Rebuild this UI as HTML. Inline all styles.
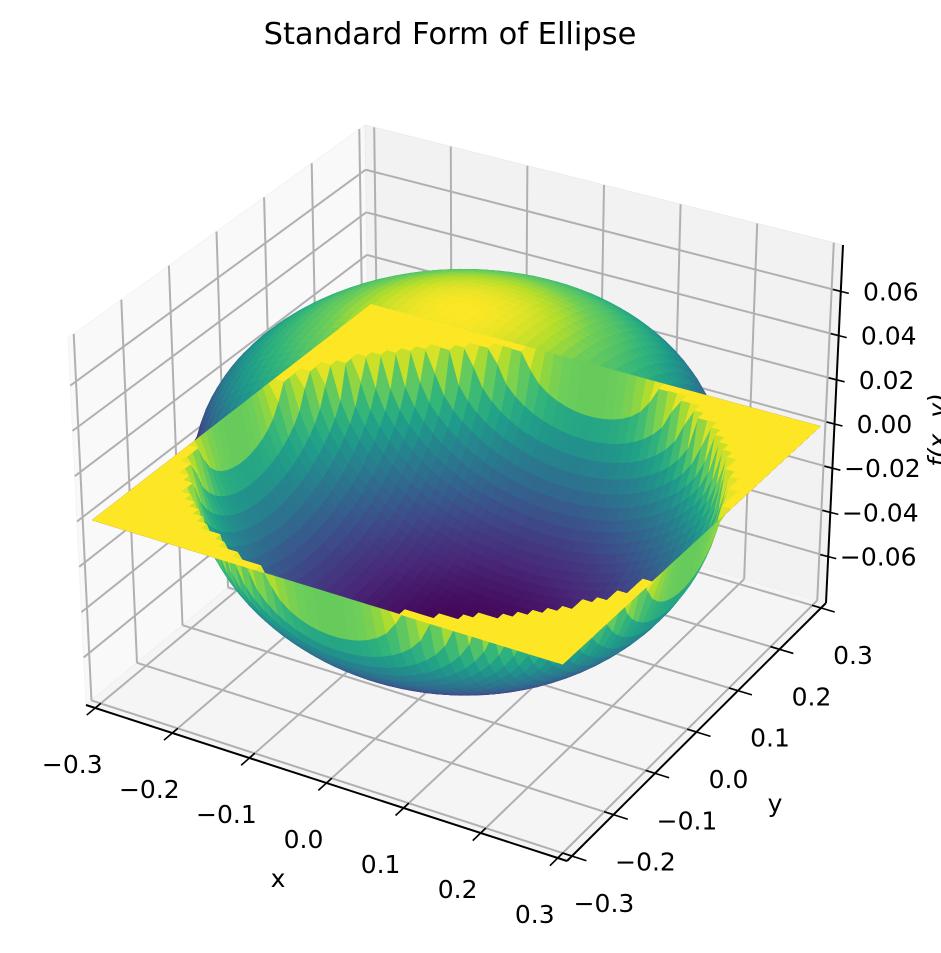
<!DOCTYPE html>
<html><head><meta charset="utf-8"><title>Standard Form of Ellipse</title>
<style>
html,body{margin:0;padding:0;background:#fff;}
svg{display:block;font-family:"DejaVu Sans","Liberation Sans",sans-serif;}
</style></head>
<body>
<svg id="chart" width="941" height="953" viewBox="0 0 941 953" xmlns="http://www.w3.org/2000/svg">
<rect x="0" y="0" width="941" height="953" fill="#ffffff"/>
<text x="450" y="44" font-size="30.5" text-anchor="middle" fill="#000">Standard Form of Ellipse</text>
<g id="panes"></g>
<g id="grid"></g>
<g id="surf-upper"></g>
<g id="surf-lower"></g>
<g id="axes"></g>
<text x="278" y="887" font-size="25" text-anchor="middle">x</text>
<text x="775" y="812" font-size="25" text-anchor="middle">y</text>
<text transform="translate(946,430) rotate(-90)" font-size="25" font-style="italic" text-anchor="middle">f(x, y)</text>
</svg>
<script>
// ---- data ----
const xTicks = [-0.3, -0.2, -0.1, 0.0, 0.1, 0.2, 0.3];
const yTicks = [-0.3, -0.2, -0.1, 0.0, 0.1, 0.2, 0.3];
const zTicks = [-0.06, -0.04, -0.02, 0.0, 0.02, 0.04, 0.06];
const xTickLabels = ["\u22120.3", "\u22120.2", "\u22120.1", "0.0", "0.1", "0.2", "0.3"];
const yTickLabels = ["\u22120.3", "\u22120.2", "\u22120.1", "0.0", "0.1", "0.2", "0.3"];
const zTickLabels = ["\u22120.06", "\u22120.04", "\u22120.02", "0.00", "0.02", "0.04", "0.06"];
const semiAxes = [0.3, 0.3, 0.075];      // a, b, c
const gridDomain = [-0.3, 0.3];
const gridCount = 50;
const xLim = [-0.312, 0.312];
const yLim = [-0.312, 0.312];
const zLim = [-0.081, 0.081];

// ---- projection (box corners in screen space) ----
const C = {
  '000': [86, 705], '100': [567, 861], '110': [826, 603], '010': [370, 470],
  '001': [68, 338], '101': [567, 483], '111': [843, 245], '011': [365, 125]
};
function proj(x, y, z) {
  const u = (x - xLim[0]) / (xLim[1] - xLim[0]);
  const v = (y - yLim[0]) / (yLim[1] - yLim[0]);
  const w = (z - zLim[0]) / (zLim[1] - zLim[0]);
  let px = 0, py = 0;
  for (const a of [0, 1]) for (const b of [0, 1]) for (const c of [0, 1]) {
    const wt = (a ? u : 1 - u) * (b ? v : 1 - v) * (c ? w : 1 - w);
    const p = C['' + a + b + c];
    px += wt * p[0]; py += wt * p[1];
  }
  return [px, py];
}
function depth(x, y, z) {
  const sx = ((x - xLim[0]) / (xLim[1] - xLim[0]) - 0.5) * 4;
  const sy = ((y - yLim[0]) / (yLim[1] - yLim[0]) - 0.5) * 4;
  const sz = ((z - zLim[0]) / (zLim[1] - zLim[0]) - 0.5) * 3;
  return 0.433 * sx - 0.75 * sy + 0.5 * sz;
}
const NS = 'http://www.w3.org/2000/svg';
function mk(tag, attrs, parent) {
  const e = document.createElementNS(NS, tag);
  for (const k in attrs) e.setAttribute(k, attrs[k]);
  parent.appendChild(e);
  return e;
}
function pts(list) { return list.map(p => p[0].toFixed(1) + ',' + p[1].toFixed(1)).join(' '); }

// ---- viridis ----
const VIR = [[0,68,1,84],[0.125,72,40,120],[0.25,62,73,137],[0.375,49,104,142],[0.5,38,130,142],
  [0.625,31,158,137],[0.75,53,183,121],[0.875,110,206,88],[0.9375,181,222,43],[1,253,231,37]];
function viridis(t) {
  t = Math.max(0, Math.min(1, t));
  for (let i = 1; i < VIR.length; i++) {
    if (t <= VIR[i][0]) {
      const a = VIR[i - 1], b = VIR[i], f = (t - a[0]) / (b[0] - a[0]);
      return 'rgb(' + [1, 2, 3].map(k => Math.round(a[k] + (b[k] - a[k]) * f)).join(',') + ')';
    }
  }
  return 'rgb(253,231,37)';
}

// ---- panes ----
const panes = document.getElementById('panes');
const leftPane = mk('polygon', {points: pts([proj(xLim[0], yLim[0], zLim[0]), proj(xLim[0], yLim[1], zLim[0]), proj(xLim[0], yLim[1], zLim[1]), proj(xLim[0], yLim[0], zLim[1])]), fill: '#f9f9f9', stroke: '#f3f3f3', 'stroke-width': 1}, panes);


const backPane = mk('polygon', {points: pts([proj(xLim[0], yLim[1], zLim[0]), proj(xLim[1], yLim[1], zLim[0]), proj(xLim[1], yLim[1], zLim[1]), proj(xLim[0], yLim[1], zLim[1])]), fill: '#f2f2f2', stroke: '#ececec', 'stroke-width': 1}, panes);


const floorPane = mk('polygon', {points: pts([proj(xLim[0], yLim[0], zLim[0]), proj(xLim[1], yLim[0], zLim[0]), proj(xLim[1], yLim[1], zLim[0]), proj(xLim[0], yLim[1], zLim[0])]), fill: '#f5f5f5', stroke: '#efefef', 'stroke-width': 1}, panes);



// ---- grid lines ----
const grid = document.getElementById('grid');
function gline(a, b, name) {
  const l = mk('line', {x1: a[0], y1: a[1], x2: b[0], y2: b[1], stroke: '#b0b0b0', 'stroke-width': 2}, grid);
  
  
}
xTicks.forEach(x => {
  gline(proj(x, yLim[0], zLim[0]), proj(x, yLim[1], zLim[0]), 'x-gridline-floor');
  gline(proj(x, yLim[1], zLim[0]), proj(x, yLim[1], zLim[1]), 'x-gridline-back');
});
yTicks.forEach(y => {
  gline(proj(xLim[0], y, zLim[0]), proj(xLim[1], y, zLim[0]), 'y-gridline-floor');
  gline(proj(xLim[0], y, zLim[0]), proj(xLim[0], y, zLim[1]), 'y-gridline-side');
});
zTicks.forEach(z => {
  gline(proj(xLim[0], yLim[0], z), proj(xLim[0], yLim[1], z), 'z-gridline-side');
  gline(proj(xLim[0], yLim[1], z), proj(xLim[1], yLim[1], z), 'z-gridline-back');
});

// ---- surfaces ----
const gx = [];
for (let i = 0; i < gridCount; i++) gx.push(gridDomain[0] + (gridDomain[1] - gridDomain[0]) * i / (gridCount - 1));
function fUpper(x, y) {
  const r = 1 - (x * x) / (semiAxes[0] * semiAxes[0]) - (y * y) / (semiAxes[1] * semiAxes[1]);
  return r > 0 ? semiAxes[2] * Math.sqrt(r) : 0;
}
function drawSurface(sign, group, name) {
  const faces = [];
  let zmin = Infinity, zmax = -Infinity;
  for (let i = 0; i < gridCount - 1; i++) for (let j = 0; j < gridCount - 1; j++) {
    const vs = [[gx[i], gx[j]], [gx[i + 1], gx[j]], [gx[i + 1], gx[j + 1]], [gx[i], gx[j + 1]]]
      .map(p => [p[0], p[1], sign * fUpper(p[0], p[1])]);
    const za = (vs[0][2] + vs[1][2] + vs[2][2] + vs[3][2]) / 4;
    const cx = (vs[0][0] + vs[2][0]) / 2, cy = (vs[0][1] + vs[2][1]) / 2;
    zmin = Math.min(zmin, za); zmax = Math.max(zmax, za);
    faces.push({vs: vs, z: za, d: depth(cx, cy, za)});
  }
  faces.sort((a, b) => a.d - b.d);
  faces.forEach(f => {
    const col = viridis((f.z - zmin) / (zmax - zmin || 1));
    const p = mk('polygon', {points: pts(f.vs.map(v => proj(v[0], v[1], v[2]))), fill: col, stroke: col, 'stroke-width': 0.5}, group);
    
    
  });
}
drawSurface(1, document.getElementById('surf-upper'), 'upper-surface-face');
drawSurface(-1, document.getElementById('surf-lower'), 'lower-surface-face');

// ---- axes, ticks, labels ----
const axes = document.getElementById('axes');
function aline(a, b, name, w) {
  const l = mk('line', {x1: a[0], y1: a[1], x2: b[0], y2: b[1], stroke: '#000', 'stroke-width': w}, axes);
  
  
}
function label(x, y, txt, name) {
  const t = mk('text', {x: x, y: y, 'font-size': 25, 'text-anchor': 'middle', fill: '#000'}, axes);
  t.textContent = txt;
  
  
}
aline(proj(xLim[0], yLim[0], zLim[0]), proj(xLim[1], yLim[0], zLim[0]), 'x-axis-line', 2);
aline(proj(xLim[1], yLim[0], zLim[0]), proj(xLim[1], yLim[1], zLim[0]), 'y-axis-line', 2);
aline(proj(xLim[1], yLim[1], zLim[0]), proj(xLim[1], yLim[1], zLim[1]), 'z-axis-line', 2);
const dy = (yLim[1] - yLim[0]), dx = (xLim[1] - xLim[0]);
xTicks.forEach((x, i) => {
  aline(proj(x, yLim[0] + 0.02 * dy, zLim[0]), proj(x, yLim[0] - 0.03 * dy, zLim[0]), 'x-tick', 1.6);
  const p = proj(x, yLim[0], zLim[0]);
  label(p[0] - 23, p[1] + 65, xTickLabels[i], 'x-tick-label');
});
yTicks.forEach((y, i) => {
  aline(proj(xLim[1] - 0.02 * dx, y, zLim[0]), proj(xLim[1] + 0.03 * dx, y, zLim[0]), 'y-tick', 1.6);
  const p = proj(xLim[1], y, zLim[0]);
  label(p[0] + 32, p[1] + 56, yTickLabels[i], 'y-tick-label');
});
zTicks.forEach((z, i) => {
  const p = proj(xLim[1], yLim[1], z);
  aline([p[0] - 8, p[1] - 2], [p[0] + 8, p[1] + 2], 'z-tick', 1.6);
  label(p[0] + 50, p[1] + 9, zTickLabels[i], 'z-tick-label');
});
</script>
</body></html>
